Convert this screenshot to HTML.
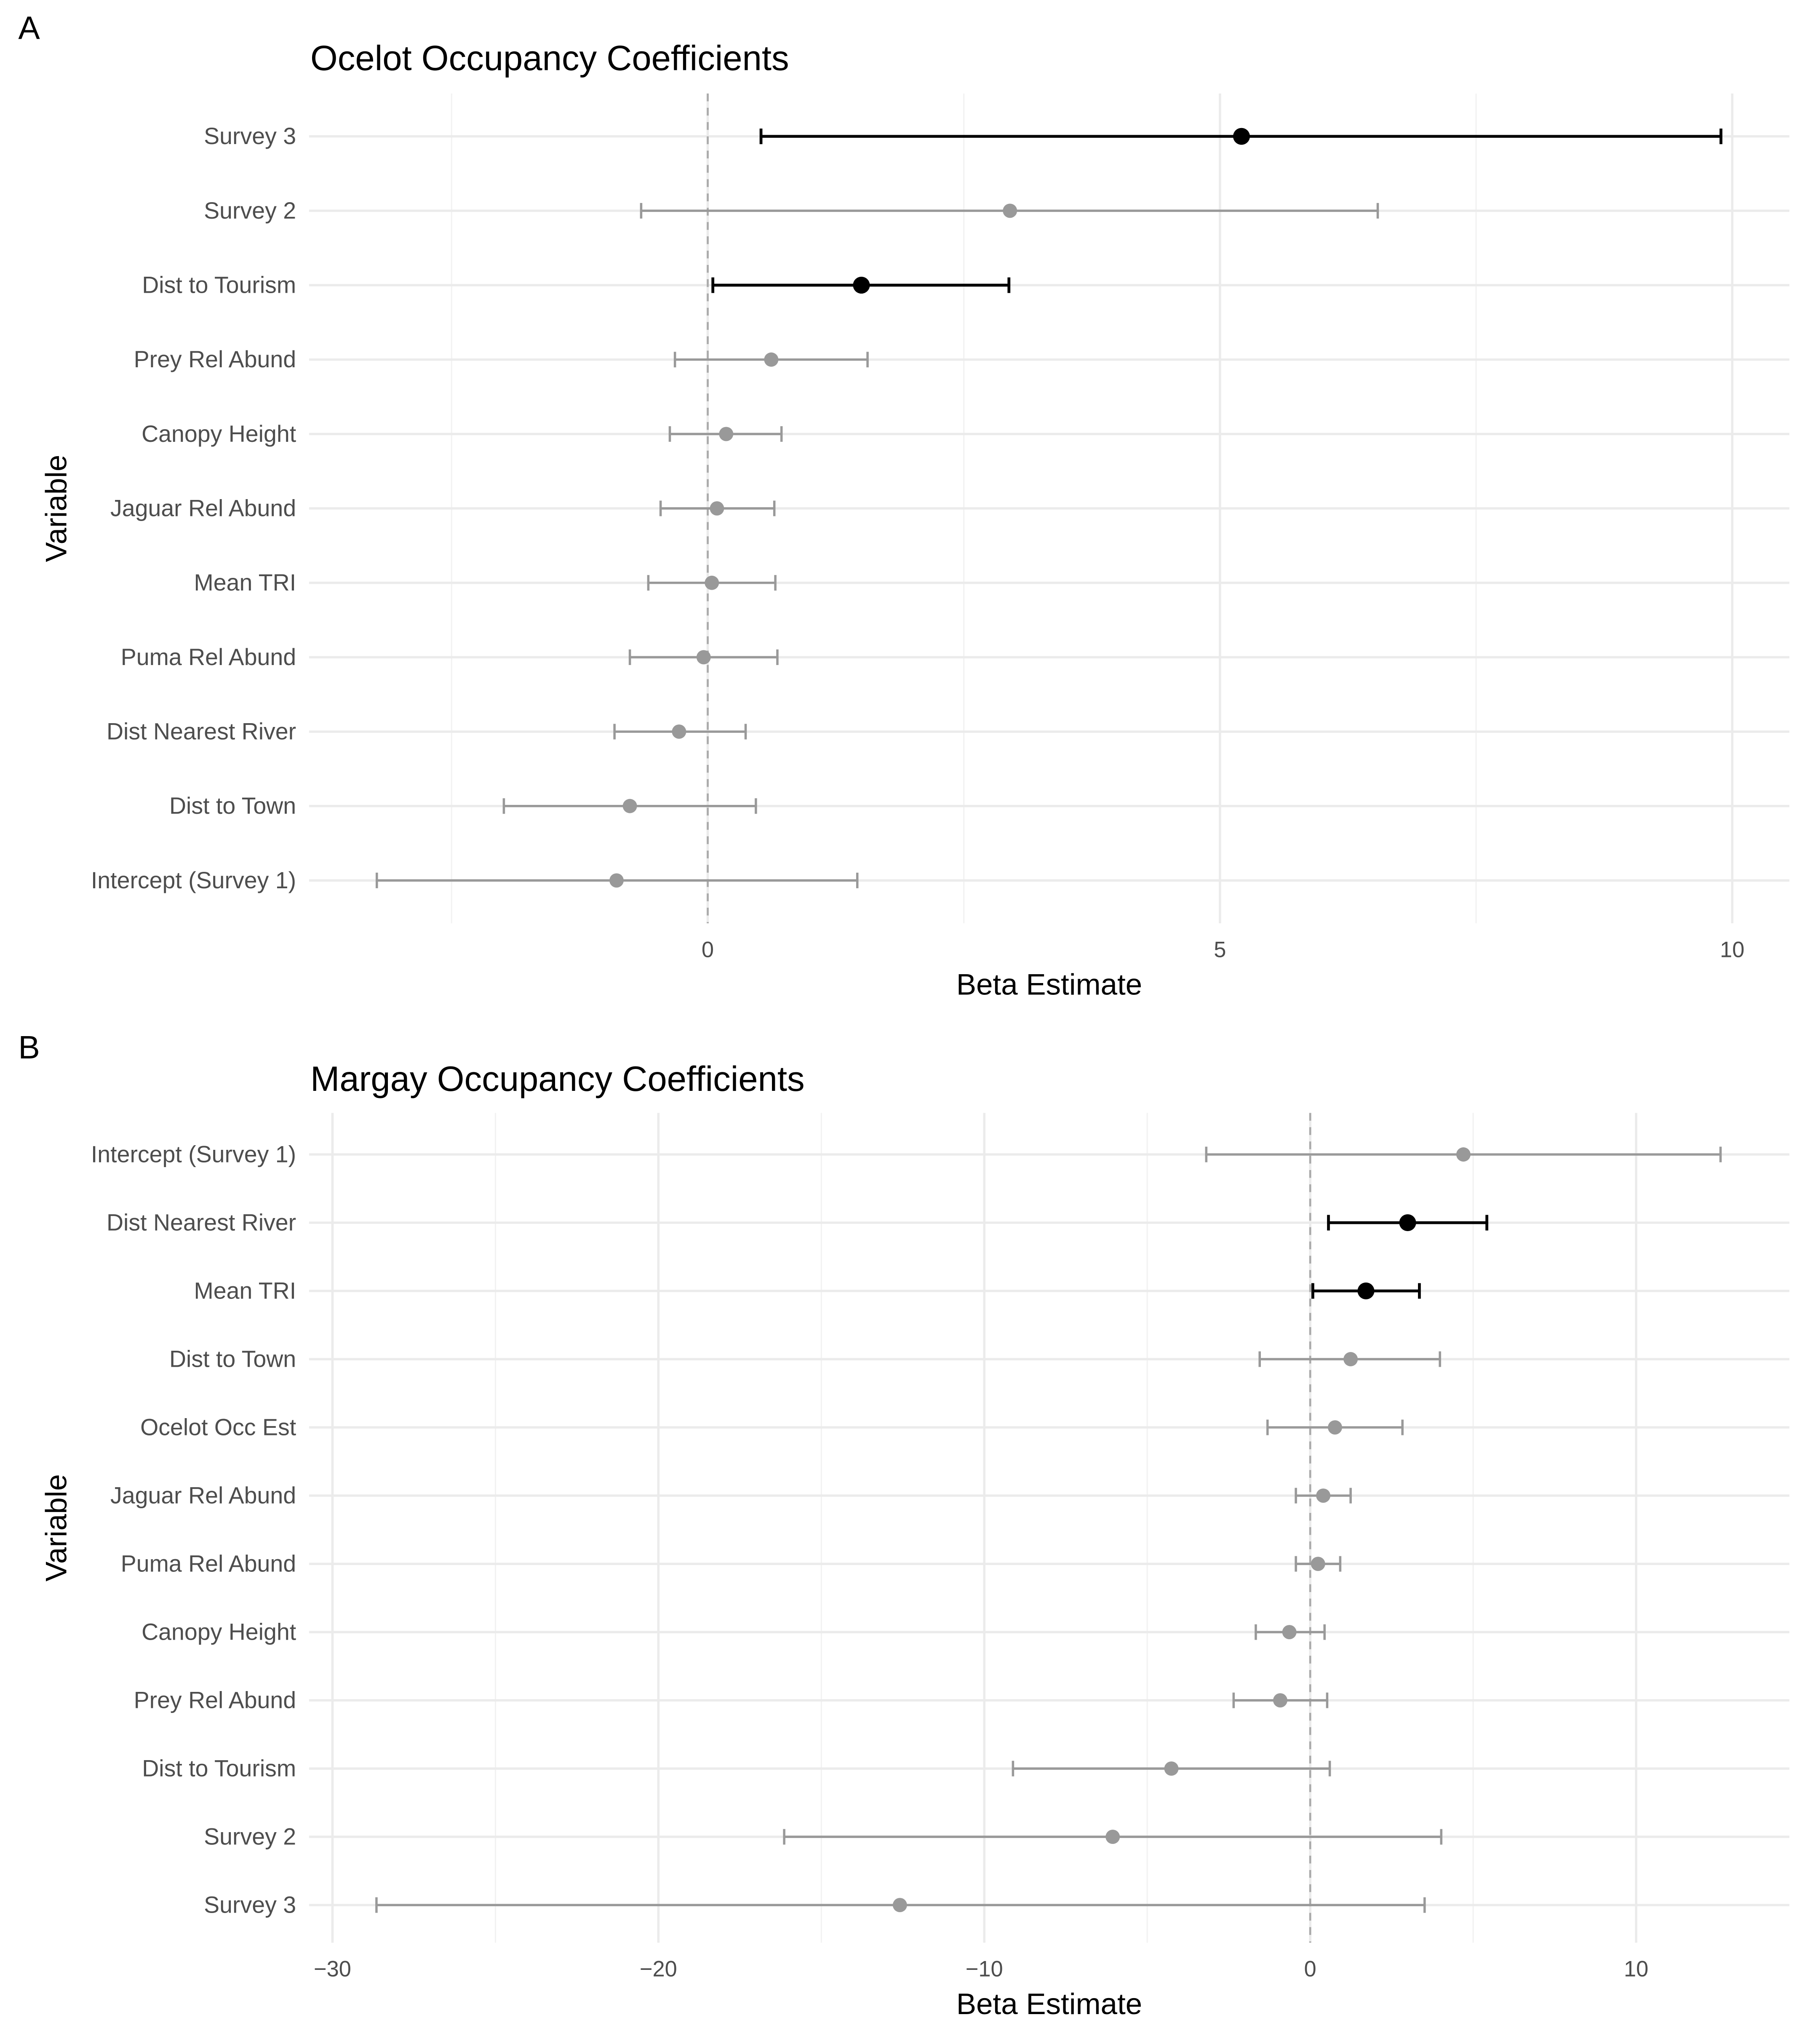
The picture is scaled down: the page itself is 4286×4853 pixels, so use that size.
<!DOCTYPE html>
<html><head><meta charset="utf-8"><style>
html,body{margin:0;padding:0;background:#fff;}
svg{display:block;font-family:"Liberation Sans",sans-serif;}
</style></head><body>
<svg id="chart" width="4286" height="4853" viewBox="0 0 1390 1574" xmlns="http://www.w3.org/2000/svg">
<rect width="1390" height="1574" fill="#fff"/>
</svg>
<script>
// Panel A data (Ocelot), top to bottom
const catsA = ["Survey 3","Survey 2","Dist to Tourism","Prey Rel Abund","Canopy Height","Jaguar Rel Abund","Mean TRI","Puma Rel Abund","Dist Nearest River","Dist to Town","Intercept (Survey 1)"];
const estA = [5.21,2.95,1.50,0.62,0.18,0.09,0.04,-0.04,-0.28,-0.76,-0.89];
const loA = [0.52,-0.65,0.05,-0.32,-0.37,-0.46,-0.58,-0.76,-0.91,-1.99,-3.23];
const hiA = [9.89,6.54,2.94,1.56,0.72,0.65,0.66,0.68,0.37,0.47,1.46];
const sigA = [1,0,1,0,0,0,0,0,0,0,0];
const ticksA = [0,5,10];
const minorA = [-2.5,2.5,7.5];
// Panel B data (Margay), top to bottom
const catsB = ["Intercept (Survey 1)","Dist Nearest River","Mean TRI","Dist to Town","Ocelot Occ Est","Jaguar Rel Abund","Puma Rel Abund","Canopy Height","Prey Rel Abund","Dist to Tourism","Survey 2","Survey 3"];
const estB = [4.70,2.99,1.71,1.24,0.76,0.40,0.24,-0.64,-0.92,-4.26,-6.06,-12.59];
const loB = [-3.19,0.56,0.08,-1.55,-1.31,-0.44,-0.44,-1.67,-2.35,-9.12,-16.14,-28.65];
const hiB = [12.59,5.42,3.35,3.98,2.83,1.24,0.92,0.44,0.52,0.60,4.02,3.51];
const sigB = [0,1,1,0,0,0,0,0,0,0,0,0];
const ticksB = [-30,-20,-10,0,10];
const minorB = [-25,-15,-5,5];

const svg = document.getElementById('chart');
const NS = "http://www.w3.org/2000/svg";
function mk(tag, attrs, parent){
  const e = document.createElementNS(NS, tag);
  for (const k in attrs) e.setAttribute(k, attrs[k]);
  (parent||svg).appendChild(e); return e;
}

function panel(cfg){
  const g = mk('g', {});
  
  
  const x = v => cfg.x0 + (v - cfg.v0) * cfg.ppu;
  const n = cfg.cats.length;
  const y = i => cfg.yFirst + i * (cfg.yLast - cfg.yFirst) / (n - 1);
  const L = 238, R = 1378;
  cfg.minor.forEach(v => { const l = mk('line', {x1:x(v),x2:x(v),y1:cfg.top,y2:cfg.bot,stroke:'#f2f2f2','stroke-width':1}, g);
      });
  cfg.ticks.forEach(v => { const l = mk('line', {x1:x(v),x2:x(v),y1:cfg.top,y2:cfg.bot,stroke:'#ebebeb','stroke-width':1.8}, g);
     
    const t = mk('text', {x:x(v),y:cfg.bot+26,'text-anchor':'middle','font-size':17,fill:'#4d4d4d'}, g);
    t.textContent = v < 0 ? '\u2212' + Math.abs(v) : String(v);
      });
  cfg.cats.forEach((c,i) => {
    const l = mk('line', {x1:L,x2:R,y1:y(i),y2:y(i),stroke:'#ebebeb','stroke-width':1.8}, g);
     
    const t = mk('text', {x:228,y:y(i)+6,'text-anchor':'end','font-size':18,fill:'#4d4d4d'}, g);
    t.textContent = c;
     
  });
  const z = mk('line', {x1:x(0),x2:x(0),y1:cfg.top,y2:cfg.bot,stroke:'#aaa','stroke-width':1.5,'stroke-dasharray':'6,5'}, g);
   
  cfg.cats.forEach((c,i) => {
    const col = cfg.sig[i] ? '#000' : '#999';
    const w = cfg.sig[i] ? 2.2 : 1.8;
    const eg = mk('g', {}, g);
    
    
    const yy = y(i);
    mk('line', {x1:x(cfg.lo[i]),x2:x(cfg.hi[i]),y1:yy,y2:yy,stroke:col,'stroke-width':w}, eg);
    mk('line', {x1:x(cfg.lo[i]),x2:x(cfg.lo[i]),y1:yy-6,y2:yy+6,stroke:col,'stroke-width':w}, eg);
    mk('line', {x1:x(cfg.hi[i]),x2:x(cfg.hi[i]),y1:yy-6,y2:yy+6,stroke:col,'stroke-width':w}, eg);
    mk('circle', {cx:x(cfg.est[i]),cy:yy,r:cfg.sig[i]?6.5:5.5,fill:col}, eg);
  });
  const ti = mk('text', {x:239,y:cfg.titleY,'font-size':27,fill:'#000'}, g);
  ti.textContent = cfg.title;
   
  const xt = mk('text', {x:808,y:cfg.bot+55,'text-anchor':'middle','font-size':23,fill:'#000'}, g);
  xt.textContent = 'Beta Estimate';
   
  const cy = (cfg.top+cfg.bot)/2;
  const yt = mk('text', {x:0,y:0,'text-anchor':'middle','font-size':23,fill:'#000',transform:`translate(51,${cy}) rotate(-90)`}, g);
  yt.textContent = 'Variable';
   
  const pl = mk('text', {x:14,y:cfg.letterY,'font-size':25,fill:'#000'}, g);
  pl.textContent = cfg.letter;
   
}

panel({name:'panel-a-ocelot',cats:catsA,est:estA,lo:loA,hi:hiA,sig:sigA,ticks:ticksA,minor:minorA,
  x0:545,v0:0,ppu:78.9,yFirst:105,yLast:678,top:72,bot:711,title:'Ocelot Occupancy Coefficients',titleY:54,letter:'A',letterY:30});
panel({name:'panel-b-margay',cats:catsB,est:estB,lo:loB,hi:hiB,sig:sigB,ticks:ticksB,minor:minorB,
  x0:1009,v0:0,ppu:25.1,yFirst:889,yLast:1467,top:857,bot:1496,title:'Margay Occupancy Coefficients',titleY:840,letter:'B',letterY:815});
</script>
</body></html>
